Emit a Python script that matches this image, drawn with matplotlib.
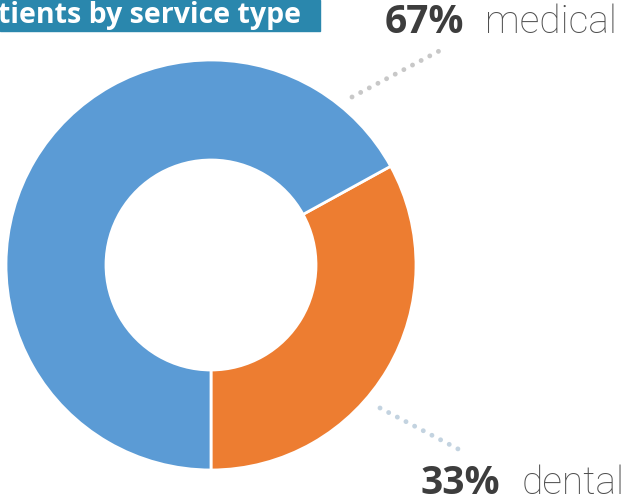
import matplotlib.pyplot as plt
from matplotlib.patches import Rectangle

# datos
categorias = ["dental", "medical"]
valores = [33, 67]
colores = ["#ed7d31", "#5b9bd5"]
titulo = "tients by service type"

fig = plt.figure(figsize=(6.27, 5.01), dpi=100)
ax = fig.add_axes([0, 0, 1, 1])

ax.pie(valores, colors=colores, startangle=-90, counterclock=True,
       center=(211, 236), radius=205, frame=True,
       wedgeprops=dict(width=100, edgecolor="white", linewidth=2))
ax.set_xlim(0, 627)
ax.set_ylim(0, 501)
ax.set_aspect("equal")
ax.axis("off")

# titulo recortado
ax.add_patch(Rectangle((0, 470), 320, 31, color="#2a87ad", clip_on=False))
ax.text(-2, 486, titulo, color="white", fontsize=20.5, fontweight="bold",
        family="Open Sans", va="center", ha="left")

# lineas punteadas
ax.plot([352, 441], [501 - 97, 501 - 50], color="#c8c8c8", lw=3.5,
        linestyle=(0, (0.01, 2.0)), dash_capstyle="round")
ax.plot([380, 460], [501 - 408, 501 - 450], color="#c3d3e0", lw=3.5,
        linestyle=(0, (0.01, 2.0)), dash_capstyle="round")

# etiquetas
ax.text(385, 468, f"{valores[1]}%", fontsize=28, fontweight="bold", color="#3d3d3d",
        family="Open Sans", va="baseline", ha="left")
ax.text(617, 468, categorias[1], fontsize=28, fontweight="light", color="#505050",
        family="Roboto", va="baseline", ha="right")
ax.text(420, 7, f"{valores[0]}%", fontsize=28, fontweight="bold", color="#3d3d3d",
        family="Open Sans", va="baseline", ha="left")
ax.text(625, 7, categorias[0], fontsize=28, fontweight="light", color="#505050",
        family="Roboto", va="baseline", ha="right")

fig.savefig("out.png", dpi=100)
